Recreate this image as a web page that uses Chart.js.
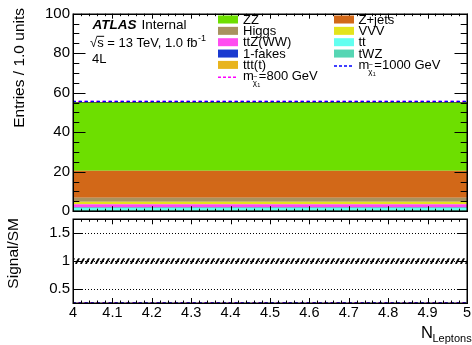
<!DOCTYPE html>
<html><head><meta charset="utf-8">
<script src="https://cdn.jsdelivr.net/npm/chart.js@4.4.1/dist/chart.umd.min.js"></script>
<style>
html,body{margin:0;padding:0;background:#fff;width:472px;height:345px;overflow:hidden}
canvas{position:absolute;left:0;top:0}
</style></head><body>
<canvas id="top" width="472" height="345"></canvas>
<canvas id="ratio" width="472" height="345"></canvas>
<script>
// ---------------- data ----------------
const binEdges = [4, 5];               // single N_Leptons bin
const tWZ    = [0.6];
const ttbar  = [1.1];
const fakes  = [0.35];
const tttt   = [0.05];
const ttZWW  = [1.4];
const VVV    = [1.3];
const Higgs  = [2.0];
const Zjets  = [13.7];
const ZZ     = [34.4];
const sig800  = [0.7];
const sig1000 = [0.6];
const mcStatErr = [0.05];             // relative MC stat. uncertainty
const xTicks = [4, 4.1, 4.2, 4.3, 4.4, 4.5, 4.6, 4.7, 4.8, 4.9, 5];
const yTicksMain = [0, 20, 40, 60, 80, 100];
const yTicksRatio = [0.5, 1, 1.5];

// ---------------- helpers ----------------
const FONT = "'Liberation Sans', Arial, Helvetica, sans-serif";
Chart.defaults.font.family = FONT;
Chart.defaults.color = '#000';

function hist(vals) {
  const pts = vals.map((v, i) => ({x: binEdges[i], y: v}));
  pts.push({x: binEdges[binEdges.length - 1], y: vals[vals.length - 1]});
  return pts;
}
const bkgList = [
  {label: 'tWZ', data: tWZ, color: '#56d6b4'},
  {label: 'tt', data: ttbar, color: '#62fff0'},
  {label: '1-fakes', data: fakes, color: '#1a3ad0'},
  {label: 'ttt(t)', data: tttt, color: '#e8b41e'},
  {label: 'ttZ(WW)', data: ttZWW, color: '#ff4cf0'},
  {label: 'VVV', data: VVV, color: '#e4e41c'},
  {label: 'Higgs', data: Higgs, color: '#a8925f'},
  {label: 'Z+jets', data: Zjets, color: '#d26818'},
  {label: 'ZZ', data: ZZ, color: '#6ddf00'}
];
const smTotal = binEdges.slice(0, -1).map((_, i) => bkgList.reduce((s, b) => s + b.data[i], 0));

const fmt = v => String(+(+v).toFixed(3));

// frame + inward ticks (ROOT style)
const rootFrame = {
  id: 'rootFrame',
  afterDatasetsDraw(chart, args, o) {
    const {ctx, chartArea: a, scales: {x, y}} = chart;
    ctx.save();
    ctx.strokeStyle = '#000';
    if (o.grid) {
      ctx.lineWidth = 1; ctx.setLineDash([1, 2]);
      o.grid.forEach(v => {
        const py = Math.round(y.getPixelForValue(v)) + 0.5;
        ctx.beginPath(); ctx.moveTo(a.left, py); ctx.lineTo(a.right, py); ctx.stroke();
      });
      ctx.setLineDash([]);
    }
    ctx.lineWidth = 1;
    const seg = (x1, y1, x2, y2) => { ctx.beginPath(); ctx.moveTo(x1, y1); ctx.lineTo(x2, y2); ctx.stroke(); };
    // x ticks
    const xs = o.xTicks, dx = (xs[1] - xs[0]) / o.xMinor;
    for (let i = 0; i < xs.length; i++) {
      for (let k = 0; k < o.xMinor; k++) {
        const v = xs[i] + k * dx;
        if (v > xs[xs.length - 1] + 1e-9) break;
        const px = Math.round(x.getPixelForValue(v)) + 0.5;
        const L = k === 0 ? o.xMajLen : o.xMinLen;
        seg(px, a.bottom, px, a.bottom - L);
        seg(px, a.top, px, a.top + L);
      }
    }
    // y ticks
    const ys = o.yTicks, dy = (ys[1] - ys[0]) / o.yMinor;
    const yStart = ys[0] - Math.floor((ys[0] - y.min) / dy + 1e-9) * dy;
    for (let v = yStart; v <= y.max + 1e-9; v += dy) {
      const isMaj = ys.some(t => Math.abs(t - v) < 1e-9);
      const L = isMaj ? o.yMajLen : o.yMinLen;
      if (L <= 0) continue;
      const py = Math.round(y.getPixelForValue(v)) + 0.5;
      seg(a.left, py, a.left + L, py);
      seg(a.right, py, a.right - L, py);
    }
    ctx.lineWidth = 1.5;
    ctx.strokeRect(Math.round(a.left) + 0.25, Math.round(a.top) + 0.25, Math.round(a.right) - Math.round(a.left), Math.round(a.bottom) - Math.round(a.top));
    ctx.restore();
  }
};

// legend + labels on the main pad
const legendLayout = {
  row0: 19.5, dRow: 11.35, boxW: 20, boxH: 8,
  cols: [
    {box: 218, text: 243, items: ['ZZ', 'Higgs', 'ttZ(WW)', '1-fakes', 'ttt(t)', 'sig800']},
    {box: 334, text: 358.5, items: ['Z+jets', 'VVV', 'tt', 'tWZ', 'sig1000']}
  ]
};
const mainText = {
  id: 'mainText',
  afterDraw(chart) {
    const ctx = chart.ctx;
    ctx.save();
    ctx.fillStyle = '#000';
    ctx.textBaseline = 'alphabetic';
    // ATLAS label
    ctx.font = 'italic bold 13.5px ' + FONT;
    ctx.fillText('ATLAS', 92.5, 29.3);
    ctx.font = '13.5px ' + FONT;
    ctx.fillText('Internal', 141.5, 29.3);
    ctx.font = '13px ' + FONT;
    const l2 = '\u221As = 13 TeV, 1.0 fb';
    ctx.fillText(l2, 90, 46.7);
    const wRoot = ctx.measureText('\u221A').width, wS = ctx.measureText('s').width;
    ctx.lineWidth = 1; ctx.strokeStyle = '#000';
    ctx.beginPath(); ctx.moveTo(90 + wRoot - 0.5, 36.3); ctx.lineTo(90 + wRoot + wS + 0.5, 36.3); ctx.stroke();
    const w2 = ctx.measureText(l2).width;
    ctx.font = '9px ' + FONT;
    ctx.fillText('-1', 90 + w2 + 0.5, 40.5);
    ctx.font = '13px ' + FONT;
    ctx.fillText('4L', 92, 63.3);
    // legend
    const dsByKey = {};
    chart.data.datasets.forEach(d => { dsByKey[d.key || d.label] = d; });
    legendLayout.cols.forEach(col => {
      col.items.forEach((key, r) => {
        const d = dsByKey[key];
        if (!d) return;
        const cy = legendLayout.row0 + r * legendLayout.dRow;
        if (d.sigMass) {
          ctx.save();
          ctx.strokeStyle = d.borderColor; ctx.lineWidth = 1.5; ctx.setLineDash([3, 2]);
          ctx.beginPath(); ctx.moveTo(col.box, cy + 1); ctx.lineTo(col.box + legendLayout.boxW, cy + 1); ctx.stroke();
          ctx.restore();
          const by = cy + 4;
          ctx.font = '13px ' + FONT;
          ctx.fillText('m', col.text, by);
          const wm = ctx.measureText('m').width;
          const sx = col.text + wm - 1;
          ctx.font = '8px ' + FONT;
          ctx.fillText('\u03C7', sx, by + 5);
          ctx.font = '7px ' + FONT;
          ctx.fillText('~', sx + 0.5, by - 1.5);
          ctx.font = '5.5px ' + FONT;
          ctx.fillText('1', sx + 4.5, by + 7);
          ctx.font = '13px ' + FONT;
          ctx.fillText('=' + d.sigMass + ' GeV', col.text + wm + 5, by);
        } else {
          ctx.fillStyle = d.backgroundColor;
          ctx.fillRect(col.box, cy - legendLayout.boxH / 2, legendLayout.boxW, legendLayout.boxH);
          ctx.fillStyle = '#000';
          ctx.font = '13px ' + FONT;
          ctx.fillText(d.label, col.text, cy + 4);
        }
      });
    });
    ctx.restore();
  }
};

// ---------------- main pad ----------------
const mainDatasets = bkgList.map((b, i) => ({
  label: b.label, data: hist(b.data), backgroundColor: b.color, borderColor: b.color,
  borderWidth: 0, pointRadius: 0, fill: i === 0 ? 'origin' : '-1', stepped: 'after', stack: 'bkg'
}));
mainDatasets.push({
  label: 'SM', key: 'SM', data: hist(smTotal), borderColor: '#000', borderWidth: 1,
  pointRadius: 0, fill: false, stepped: 'after', stack: 'tot'
});
mainDatasets.push({
  label: 'm1000', key: 'sig1000', sigMass: 1000, data: hist(smTotal.map((v, i) => v + sig1000[i])),
  borderColor: '#0000ff', borderWidth: 1.5, borderDash: [3, 3], pointRadius: 0, fill: false, stepped: 'after', stack: 's1000'
});
mainDatasets.push({
  label: 'm800', key: 'sig800', sigMass: 800, data: hist(smTotal.map((v, i) => v + sig800[i])),
  borderColor: '#ff00ff', borderWidth: 1.5, borderDash: [3, 3], borderDashOffset: 1, pointRadius: 0, fill: false, stepped: 'after', stack: 's800'
});

new Chart(document.getElementById('top'), {
  type: 'line',
  data: {datasets: mainDatasets},
  options: {
    responsive: false, animation: false, devicePixelRatio: 1,
    layout: {padding: {left: 0, right: 5, top: 13.7, bottom: 133.8}},
    plugins: {
      legend: {display: false}, tooltip: {enabled: false},
      rootFrame: {xTicks: xTicks, xMinor: 5, xMajLen: 5, xMinLen: 2.5, yTicks: yTicksMain, yMinor: 4, yMajLen: 12.5, yMinLen: 6.3}
    },
    scales: {
      x: {type: 'linear', min: binEdges[0], max: binEdges[binEdges.length - 1], display: false},
      y: {
        stacked: true, min: 0, max: 100,
        afterBuildTicks: s => { s.ticks = yTicksMain.map(v => ({value: v})); },
        afterFit: s => { s.width = 73; },
        grid: {display: false, drawTicks: false}, border: {display: false},
        ticks: {font: {size: 15}, color: '#000', padding: 3, callback: v => fmt(v)}
      }
    }
  },
  plugins: [rootFrame, mainText]
});

// ---------------- ratio pad ----------------
let hatchPattern = null;
(function () {
  const c = document.createElement('canvas'); c.width = 5; c.height = 6;
  const g = c.getContext('2d');
  g.strokeStyle = '#000'; g.lineWidth = 1.8; g.lineCap = 'butt';
  g.beginPath(); g.moveTo(0.8, 6); g.lineTo(4.2, 0); g.stroke();
  hatchPattern = document.getElementById('ratio').getContext('2d').createPattern(c, 'repeat');
})();
const ratioMin = 0.25, ratioMax = 1.75;
const smRatio = smTotal.map(v => v / v);
const ratioText = {
  id: 'ratioText',
  beforeDatasetsDraw(chart) {
    const y = chart.scales.y;
    const top = y.getPixelForValue(smRatio[0] + mcStatErr[0]);
    hatchPattern.setTransform(new DOMMatrix([1, 0, 0, 1, 0, Math.round(top)]));
  },
  afterDraw(chart) {
    const ctx = chart.ctx;
    ctx.save();
    ctx.fillStyle = '#000';
    ctx.font = '15.5px ' + FONT;
    ctx.textBaseline = 'middle';
    ctx.textAlign = 'right';
    ctx.save(); ctx.translate(20, 8); ctx.rotate(-Math.PI / 2); ctx.fillText('Entries / 1.0 units', 0, 0); ctx.restore();
    ctx.save(); ctx.translate(13.5, 218); ctx.rotate(-Math.PI / 2); ctx.fillText('Signal/SM', 0, 0); ctx.restore();
    ctx.textAlign = 'left'; ctx.textBaseline = 'alphabetic';
    ctx.font = '16.5px ' + FONT;
    ctx.fillText('N', 421, 337.5);
    ctx.font = '11px ' + FONT;
    ctx.fillText('Leptons', 432.5, 341.5);
    ctx.restore();
  }
};

new Chart(document.getElementById('ratio'), {
  type: 'line',
  data: {datasets: [
    {label: 'err-lo', data: hist(smRatio.map((v, i) => v - mcStatErr[i])), borderWidth: 0, pointRadius: 0, fill: false, stepped: 'after'},
    {label: 'err-hi', data: hist(smRatio.map((v, i) => v + mcStatErr[i])), borderWidth: 0, pointRadius: 0, fill: '-1', backgroundColor: hatchPattern, stepped: 'after'},
    {label: 'r1000', data: hist(sig1000.map((v, i) => Math.max(v / smTotal[i], ratioMin))), borderColor: '#0000ff', borderWidth: 1.5, borderDash: [3, 3], pointRadius: 0, fill: false, stepped: 'after', clip: 2},
    {label: 'r800', data: hist(sig800.map((v, i) => Math.max(v / smTotal[i], ratioMin))), borderColor: '#ff00ff', borderWidth: 1.5, borderDash: [3, 3], borderDashOffset: 1, pointRadius: 0, fill: false, stepped: 'after', clip: 2}
  ]},
  options: {
    responsive: false, animation: false, devicePixelRatio: 1,
    layout: {padding: {left: 0, right: 5, top: 219.3, bottom: 0}},
    plugins: {
      legend: {display: false}, tooltip: {enabled: false},
      rootFrame: {grid: yTicksRatio, xTicks: xTicks, xMinor: 5, xMajLen: 5, xMinLen: 2.5, yTicks: yTicksRatio, yMinor: 1, yMajLen: 10, yMinLen: 0}
    },
    scales: {
      x: {
        type: 'linear', min: binEdges[0], max: binEdges[binEdges.length - 1],
        afterBuildTicks: s => { s.ticks = xTicks.map(v => ({value: v})); },
        afterFit: s => { s.height = 42; },
        grid: {display: false, drawTicks: false}, border: {display: false},
        ticks: {font: {size: 14.5}, color: '#000', padding: 1, maxRotation: 0, autoSkip: false, callback: v => fmt(v)}
      },
      y: {
        min: ratioMin, max: ratioMax,
        afterBuildTicks: s => { s.ticks = yTicksRatio.map(v => ({value: v})); },
        afterFit: s => { s.width = 73; },
        grid: {display: false, drawTicks: false}, border: {display: false},
        ticks: {font: {size: 15}, color: '#000', padding: 3, callback: v => fmt(v)}
      }
    }
  },
  plugins: [rootFrame, ratioText]
});
</script>
</body></html>
